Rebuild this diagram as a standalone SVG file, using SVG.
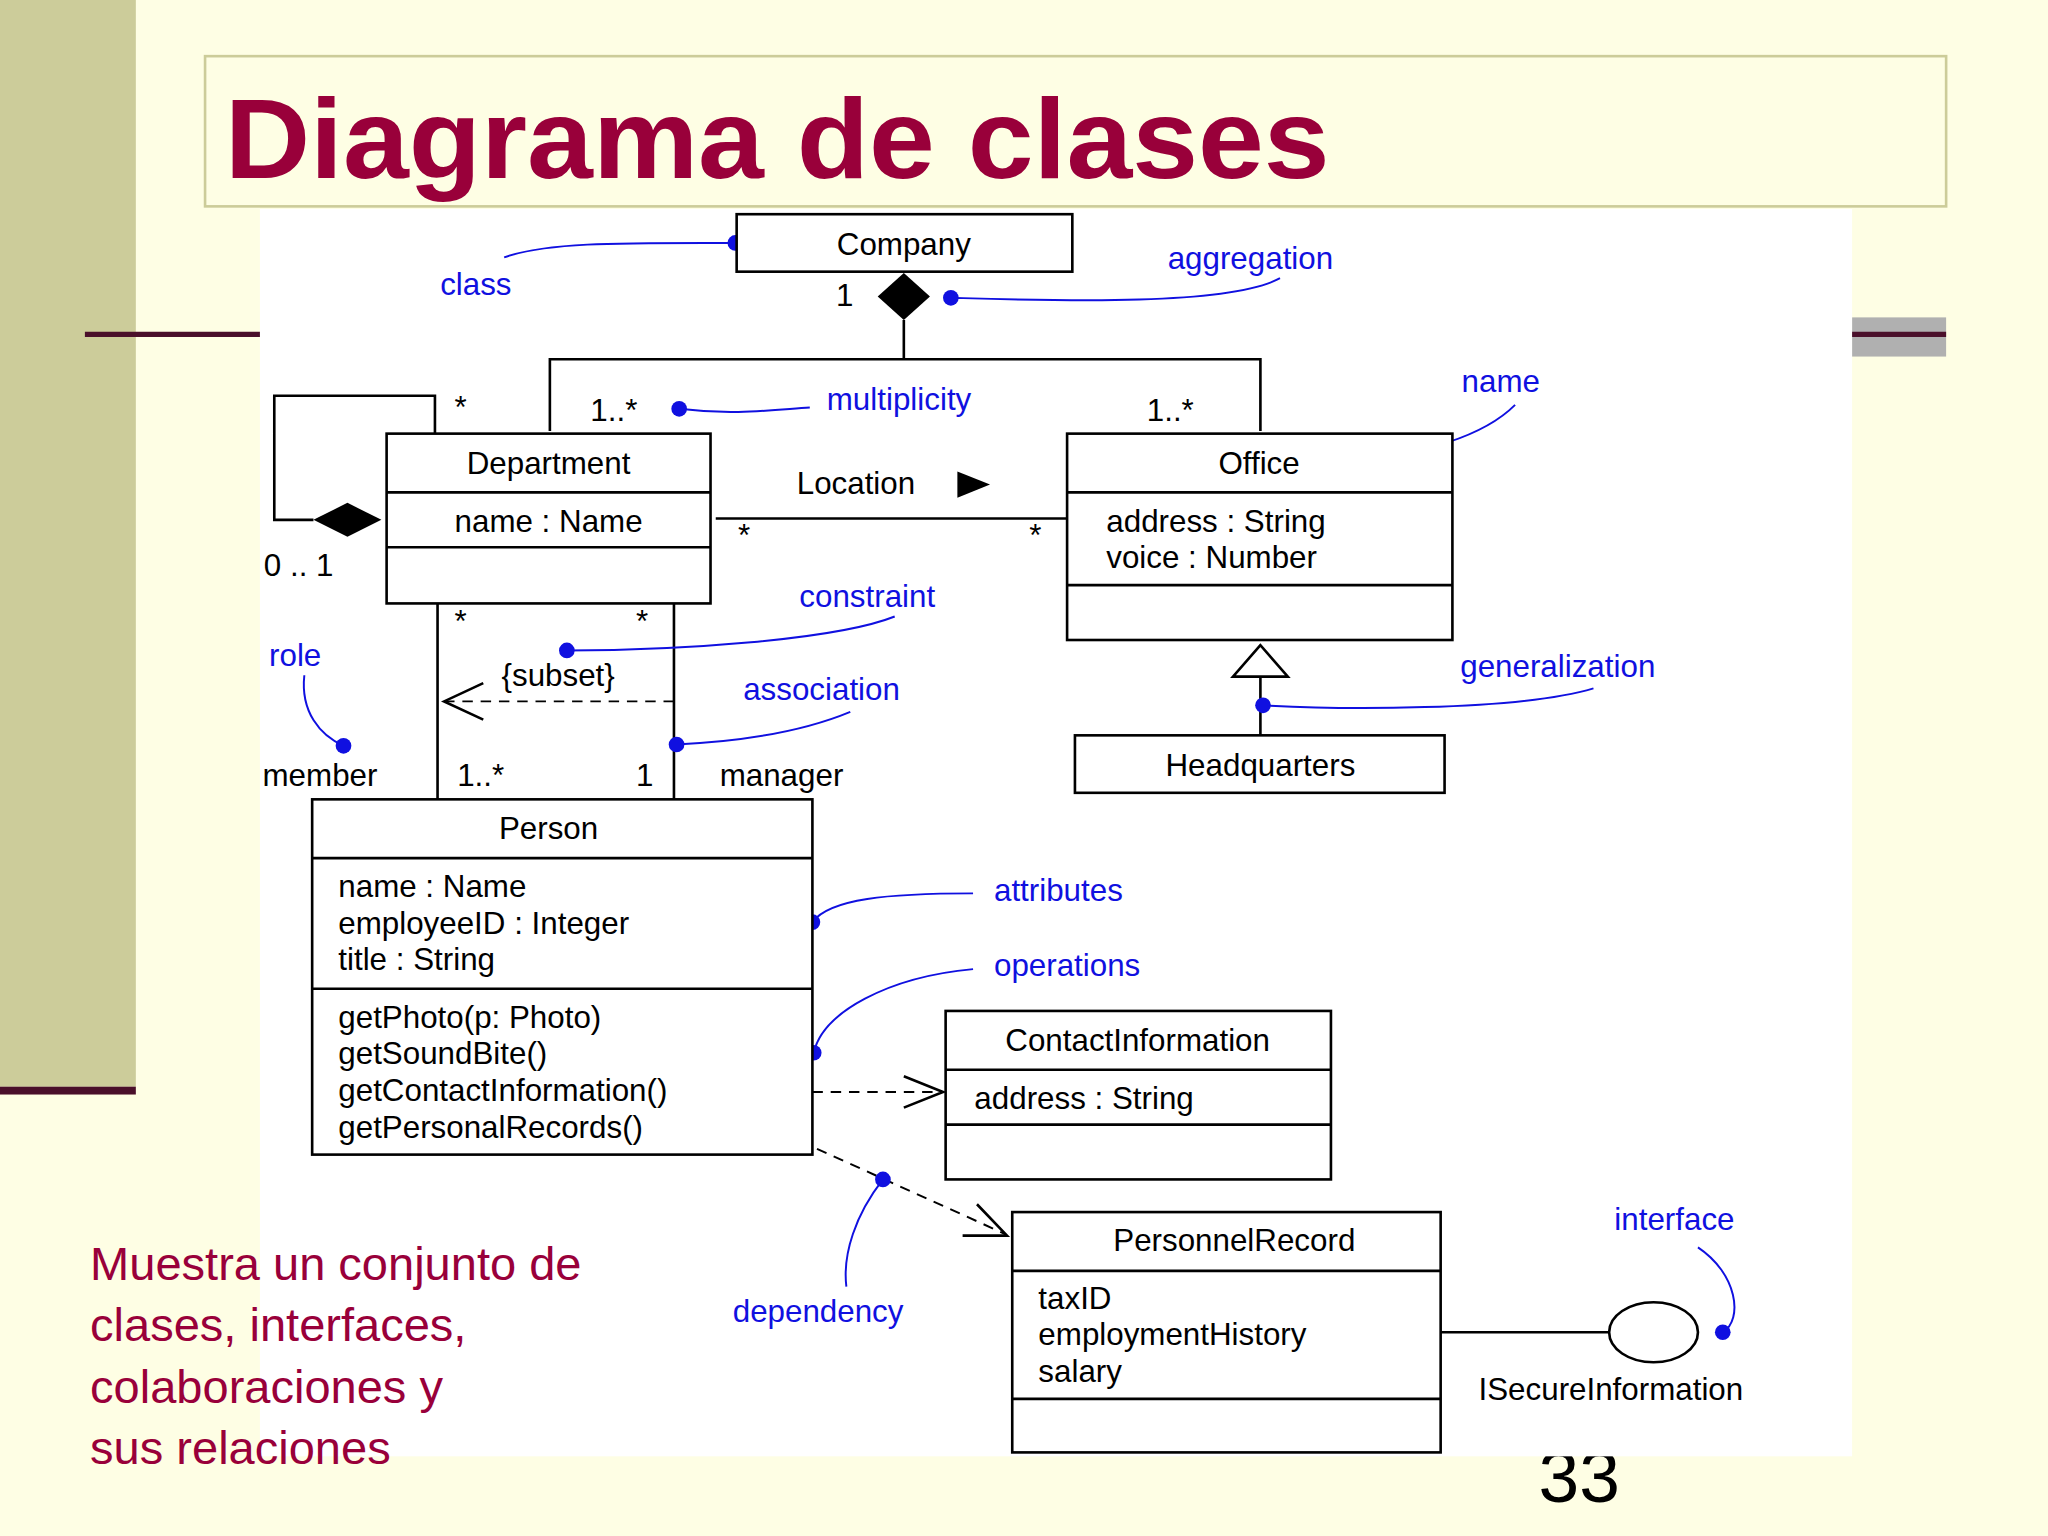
<svg xmlns="http://www.w3.org/2000/svg" width="2048" height="1536" viewBox="0 0 2048 1536">
<style>
.t{font-family:"Liberation Sans",Arial,sans-serif;font-size:24px;fill:#000}
.b{font-family:"Liberation Sans",Arial,sans-serif;font-size:24px;fill:#1010e0}
.c{text-anchor:middle}
.box{fill:#fff;stroke:#000;stroke-width:2}
.ln{fill:none;stroke:#000;stroke-width:2}
.ds{fill:none;stroke:#000;stroke-width:1.5;stroke-dasharray:8 6}
.bl{fill:none;stroke:#1010e0;stroke-width:1.5}
.dot{fill:#1010e0}
.m{font-family:"Liberation Sans",Arial,sans-serif;font-size:36px;fill:#99003a}
</style>
<g transform="scale(1.30612)">
<rect width="1568" height="1176" fill="#fefee4"/>
<rect x="0" y="0" width="104" height="832" fill="#cccc9a"/>
<rect x="0" y="832" width="104" height="6" fill="#4a0f2a"/>
<rect x="1418" y="243" width="72" height="30" fill="#b0b0b0"/>
<rect x="65" y="254" width="1425" height="4" fill="#4a0f2a"/>
<rect x="157" y="43" width="1333" height="115" fill="#fefee4" stroke="#cccc99" stroke-width="2"/>
<text x="172" y="136" font-family="'Liberation Sans',Arial,sans-serif" font-weight="bold" font-size="86" fill="#99003a" textLength="846" lengthAdjust="spacingAndGlyphs">Diagrama de clases</text>
<text x="1178" y="1150" font-family="'Liberation Sans',Arial,sans-serif" font-size="56" fill="#000">33</text>
<rect x="199" y="160" width="1219" height="955" fill="#fff"/>

<g id="connectors">
<polygon points="672,227 692,209 712,227 692,245" fill="#000"/>
<path class="ln" d="M692,245V275M421,330V275H965V330"/>
<path class="ln" d="M333,332V303H210V398H240"/>
<polygon points="240,398 266,385 292,398 266,411" fill="#000"/>
<path class="ln" d="M548,397H817"/>
<polygon points="733,361 758,371 733,381" fill="#000"/>
<path class="ln" d="M335,462V612M516,462V612"/>
<path class="ds" d="M516,537H342"/>
<path class="ln" d="M370,523L340,537L370,551" stroke-width="1.5"/>
<path class="ds" d="M622,836H720"/>
<path class="ln" d="M692,824L722,836L692,848" stroke-width="1.5"/>
<path class="ds" d="M600,868L770,945"/>
<path class="ln" d="M748,922L771,946L737,946" stroke-width="1.5"/>
<polygon points="965,494 944,518 986,518" fill="#fff" stroke="#000" stroke-width="2"/>
<path class="ln" d="M965,518V563"/>
<path class="ln" d="M1103,1020H1232"/>
<ellipse cx="1266" cy="1020" rx="34" ry="23" fill="#fff" stroke="#000" stroke-width="2"/>
<path class="bl" d="M386,197C420,185 480,186 563,186"/>
<path class="bl" d="M980,213C940,235 800,230 728,228"/>
<path class="bl" d="M520,313C560,318 590,314 620,312"/>
<path class="bl" d="M1160,310C1130,340 1070,350 1026,354"/>
<path class="bl" d="M685,472C640,490 520,498 434,498"/>
<path class="bl" d="M651,545C610,562 560,568 518,570"/>
<path class="bl" d="M233,517C230,545 245,563 263,571"/>
<path class="bl" d="M745,684C680,684 635,688 622,706"/>
<path class="bl" d="M745,742C680,748 630,775 623,806"/>
<path class="bl" d="M676,903C655,930 645,960 648,985"/>
<path class="bl" d="M1220,527C1160,545 1020,543 967,540"/>
<path class="bl" d="M1300,955C1330,975 1335,1010 1319,1020"/>
<circle class="dot" cx="563" cy="186" r="6"/>
<circle class="dot" cx="728" cy="228" r="6"/>
<circle class="dot" cx="520" cy="313" r="6"/>
<circle class="dot" cx="1026" cy="354" r="6"/>
<circle class="dot" cx="434" cy="498" r="6"/>
<circle class="dot" cx="518" cy="570" r="6"/>
<circle class="dot" cx="263" cy="571" r="6"/>
<circle class="dot" cx="622" cy="706" r="6"/>
<circle class="dot" cx="623" cy="806" r="6"/>
<circle class="dot" cx="676" cy="903" r="6"/>
<circle class="dot" cx="967" cy="540" r="6"/>
<circle class="dot" cx="1319" cy="1020" r="6"/>
</g>

<g id="company"><rect class="box" x="564" y="164" width="257" height="44"/><text class="t c" x="692" y="195">Company</text></g>
<g id="department"><rect class="box" x="296" y="332" width="248" height="130"/><path class="ln" d="M296,377H544M296,419H544"/><text class="t c" x="420" y="363">Department</text><text class="t c" x="420" y="407">name : Name</text></g>
<g id="office"><rect class="box" x="817" y="332" width="295" height="158"/><path class="ln" d="M817,377H1112M817,448H1112"/><text class="t c" x="964" y="363">Office</text><text class="t" x="847" y="407">address : String</text><text class="t" x="847" y="435">voice : Number</text></g>
<g id="headquarters"><rect class="box" x="823" y="563" width="283" height="44"/><text class="t c" x="965" y="594">Headquarters</text></g>
<g id="person"><rect class="box" x="239" y="612" width="383" height="272"/><path class="ln" d="M239,657H622M239,757H622"/><text class="t c" x="420" y="642">Person</text>
<text class="t" x="259" y="687">name : Name</text><text class="t" x="259" y="715">employeeID : Integer</text><text class="t" x="259" y="743">title : String</text>
<text class="t" x="259" y="787">getPhoto(p: Photo)</text><text class="t" x="259" y="815">getSoundBite()</text><text class="t" x="259" y="843">getContactInformation()</text><text class="t" x="259" y="871">getPersonalRecords()</text></g>
<g id="contact"><rect class="box" x="724" y="774" width="295" height="129"/><path class="ln" d="M724,819H1019M724,861H1019"/><text class="t c" x="871" y="805">ContactInformation</text><text class="t" x="746" y="849">address : String</text></g>
<g id="personnel"><rect class="box" x="775" y="928" width="328" height="184"/><path class="ln" d="M775,973H1103M775,1071H1103"/><text class="t c" x="945" y="958">PersonnelRecord</text><text class="t" x="795" y="1002">taxID</text><text class="t" x="795" y="1030">employmentHistory</text><text class="t" x="795" y="1058">salary</text></g>
<g id="isecure"><text class="t" x="1132" y="1072">ISecureInformation</text></g>

<g id="labels">
<text class="t" x="640" y="234">1</text>
<text class="t" x="452" y="322">1..*</text><text class="t" x="878" y="322">1..*</text>
<text class="t" x="348" y="320">*</text>
<text class="t" x="202" y="441">0 .. 1</text>
<text class="t" x="610" y="378">Location</text>
<text class="t" x="565" y="418">*</text><text class="t" x="788" y="418">*</text>
<text class="t" x="348" y="484">*</text><text class="t" x="487" y="484">*</text>
<text class="t" x="384" y="525">{subset}</text>
<text class="t" x="201" y="602">member</text><text class="t" x="350" y="602">1..*</text><text class="t" x="487" y="602">1</text><text class="t" x="551" y="602">manager</text>
<text class="b" x="337" y="226">class</text>
<text class="b" x="894" y="206">aggregation</text>
<text class="b" x="633" y="314">multiplicity</text>
<text class="b" x="1119" y="300">name</text>
<text class="b" x="612" y="465">constraint</text>
<text class="b" x="569" y="536">association</text>
<text class="b" x="206" y="510">role</text>
<text class="b" x="1118" y="518">generalization</text>
<text class="b" x="761" y="690">attributes</text>
<text class="b" x="761" y="747">operations</text>
<text class="b" x="561" y="1012">dependency</text>
<text class="b" x="1236" y="942">interface</text>
</g>
<text class="m" x="69" y="980">Muestra un conjunto de</text>
<text class="m" x="69" y="1027">clases, interfaces,</text>
<text class="m" x="69" y="1074">colaboraciones y</text>
<text class="m" x="69" y="1121">sus relaciones</text>
</g>
</svg>
